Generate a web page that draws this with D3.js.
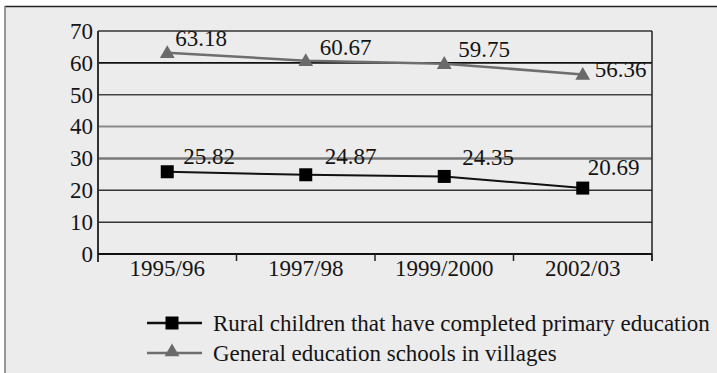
<!DOCTYPE html>
<html>
<head>
<meta charset="utf-8">
<script src="https://cdn.jsdelivr.net/npm/d3@7/dist/d3.min.js"></script>
<style>
  html, body { margin: 0; padding: 0; background: #fff; }
  svg { display: block; }
  text { font-family: "Liberation Serif", "DejaVu Serif", serif; fill: #141414; }
</style>
</head>
<body>
<svg id="chart" width="717" height="373"></svg>
<script>
// Survey years on the x axis
const years = ["1995/96", "1997/98", "1999/2000", "2002/03"];
// Share of rural children that completed primary education
const ruralChildren = [25.82, 24.87, 24.35, 20.69];
// General education schools located in villages
const villageSchools = [63.18, 60.67, 59.75, 56.36];
// Y axis ticks
const yTicks = [0, 10, 20, 30, 40, 50, 60, 70];
// Legend entries
const seriesNames = [
  "Rural children that have completed primary education",
  "General education schools in villages"
];

// Offsets of each value label from its marker (layout only)
const labelOffsetRural = [[16, -16], [19, -19], [18, -19], [5, -21]];
const labelOffsetVillage = [[8, -15], [14, -14], [14, -15], [12, -6]];

const svg = d3.select("#chart");
const W = 717, H = 373;
const plotL = 98, plotR = 652, plotT = 31, plotB = 254;
const fontSize = 23;

// panel background and frame
svg.append("rect").attr("x", 5).attr("y", 6).attr("width", W - 5).attr("height", H - 6)
  .attr("fill", "#ececec");
svg.append("line").attr("x1", 5).attr("x2", W).attr("y1", 6.5).attr("y2", 6.5)
  .attr("stroke", "#222").attr("stroke-width", 1.5);
svg.append("line").attr("x1", 5).attr("x2", 5).attr("y1", 6).attr("y2", H)
  .attr("stroke", "#777").attr("stroke-width", 1.5);

const x = d3.scaleBand().domain(years).range([plotL, plotR]).padding(0);
const y = d3.scaleLinear().domain([0, 70]).range([plotB, plotT]);

// horizontal gridlines
const gridColor = { 10: "#333", 20: "#333", 30: "#7a7a7a", 40: "#8a8a8a", 50: "#444", 60: "#111", 70: "#333" };
const gridWidth = { 10: 1.5, 20: 1.5, 30: 2.5, 40: 2, 50: 1.5, 60: 1.8, 70: 1.5 };
svg.append("g").selectAll("line").data(yTicks.filter(d => d > 0)).join("line")
  .attr("x1", plotL).attr("x2", plotR)
  .attr("y1", d => y(d)).attr("y2", d => y(d))
  .attr("stroke", d => gridColor[d]).attr("stroke-width", d => gridWidth[d]);

// right edge of plot
svg.append("line").attr("x1", plotR).attr("x2", plotR).attr("y1", plotT).attr("y2", plotB + 7)
  .attr("stroke", "#222").attr("stroke-width", 1.5);

// y axis
const yAxis = svg.append("g").attr("transform", `translate(${plotL},0)`)
  .call(d3.axisLeft(y).tickValues(yTicks).tickSize(0).tickPadding(5));
yAxis.select(".domain").remove();
yAxis.selectAll("text").attr("font-size", fontSize).attr("fill", "#141414")
  .style("font-family", "'Liberation Serif', serif");
svg.append("line").attr("x1", plotL).attr("x2", plotL).attr("y1", plotT).attr("y2", plotB + 8)
  .attr("stroke", "#333").attr("stroke-width", 2);

// x axis with ticks on the band boundaries
svg.append("line").attr("x1", plotL).attr("x2", plotR).attr("y1", plotB).attr("y2", plotB)
  .attr("stroke", "#111").attr("stroke-width", 2);
const bounds = years.map(d => x(d)).concat([plotR]);
svg.append("g").selectAll("line").data(bounds.slice(1)).join("line")
  .attr("x1", d => d).attr("x2", d => d).attr("y1", plotB).attr("y2", plotB + 7)
  .attr("stroke", "#222").attr("stroke-width", 1.5);
const xAxis = svg.append("g").attr("transform", `translate(0,${plotB})`)
  .call(d3.axisBottom(x).tickSize(0).tickPadding(6));
xAxis.select(".domain").remove();
xAxis.selectAll("text").attr("font-size", fontSize).attr("fill", "#141414")
  .style("font-family", "'Liberation Serif', serif");

const cx = d => x(d) + x.bandwidth() / 2;
const line = d3.line().x(d => cx(d[0])).y(d => y(d[1]));
const tri = d3.symbol().type(d3.symbolTriangle).size(95);

// village schools series (grey, triangles)
const vData = years.map((d, i) => [d, villageSchools[i]]);
svg.append("path").datum(vData).attr("d", line)
  .attr("fill", "none").attr("stroke", "#6e6e6e").attr("stroke-width", 2.5);
svg.append("g").selectAll("path").data(vData).join("path")
  .attr("d", tri).attr("transform", d => `translate(${cx(d[0])},${y(d[1]) + 1})`)
  .attr("fill", "#6a6a6a");

// rural children series (black, squares)
const rData = years.map((d, i) => [d, ruralChildren[i]]);
svg.append("path").datum(rData).attr("d", line)
  .attr("fill", "none").attr("stroke", "#111").attr("stroke-width", 2);
svg.append("g").selectAll("rect").data(rData).join("rect")
  .attr("x", d => cx(d[0]) - 6.5).attr("y", d => y(d[1]) - 6.5)
  .attr("width", 13).attr("height", 13).attr("fill", "#000");

// value labels
const labelFmt = d3.format(".2f");
svg.append("g").selectAll("text").data(vData).join("text")
  .attr("x", (d, i) => cx(d[0]) + labelOffsetVillage[i][0])
  .attr("y", (d, i) => y(d[1]) + labelOffsetVillage[i][1])
  .attr("dy", "0.35em").attr("font-size", fontSize).text(d => labelFmt(d[1]));
svg.append("g").selectAll("text").data(rData).join("text")
  .attr("x", (d, i) => cx(d[0]) + labelOffsetRural[i][0])
  .attr("y", (d, i) => y(d[1]) + labelOffsetRural[i][1])
  .attr("dy", "0.35em").attr("font-size", fontSize).text(d => labelFmt(d[1]));

// legend
const legend = svg.append("g").attr("transform", "translate(147,323)");
const items = legend.selectAll("g").data(seriesNames).join("g")
  .attr("transform", (d, i) => `translate(0,${i * 30})`);
items.append("line").attr("x1", 0).attr("x2", 55).attr("y1", 0).attr("y2", 0)
  .attr("stroke", (d, i) => i === 0 ? "#111" : "#6e6e6e").attr("stroke-width", 2.5);
items.filter((d, i) => i === 0).append("rect")
  .attr("x", 18.5).attr("y", -6.5).attr("width", 13).attr("height", 13).attr("fill", "#000");
items.filter((d, i) => i === 1).append("path")
  .attr("d", tri).attr("transform", "translate(25,-1)").attr("fill", "#6a6a6a");
items.append("text").attr("x", 66).attr("dy", "0.35em").attr("font-size", fontSize)
  .text(d => d);
</script>
</body>
</html>
